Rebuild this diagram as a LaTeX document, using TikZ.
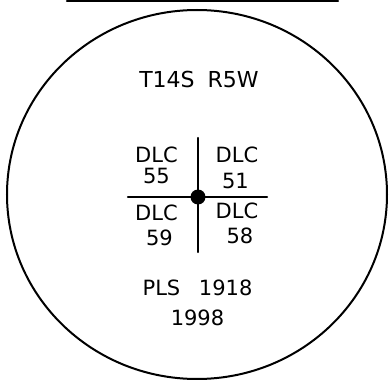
\documentclass[tikz,border=0pt]{standalone}
\usepackage{fontspec}
\setmainfont{DejaVu Sans}
\begin{document}
\begin{tikzpicture}[x=1pt,y=-1pt,
  lbl/.style={anchor=base,inner sep=0pt,font=\fontsize{21}{21}\selectfont},
  big/.style={anchor=base,inner sep=0pt,font=\fontsize{22}{22}\selectfont},
  ln/.style={line width=2.2pt,line cap=round}]
\useasboundingbox (0,0) rectangle (389,380);
% top line
\coordinate (tl) at (67,1.2);
\coordinate (tr) at (338,1.2);
\draw[ln] (tl) -- (tr);
% circle
\draw[line width=2pt] (197,194.5) ellipse [x radius=190, y radius=184.5];
% cross lines
\coordinate (vt) at (198,138);
\coordinate (vb) at (198,252);
\coordinate (hl) at (128,197);
\coordinate (hr) at (267,197);
\draw[ln] (vt) -- (vb);
\draw[ln] (hl) -- (hr);
\node[circle,fill=black,inner sep=0pt,minimum size=15pt] (dot) at (198,197) {};
% texts
\node[big] (twp) at (199,87) {T14S\hspace{6pt} R5W};
\node[lbl] (a1) at (156.5,162) {DLC};
\node[lbl] (a2) at (156.5,183) {55};
\node[lbl] (b1) at (237,162) {DLC};
\node[lbl] (b2) at (235.5,188) {51};
\node[lbl] (c1) at (156.5,220) {DLC};
\node[lbl] (c2) at (159.5,245) {59};
\node[lbl] (d1) at (237,218) {DLC};
\node[lbl] (d2) at (240,243) {58};
\node[lbl] (pls) at (197.5,295) {PLS\hspace{12pt} 1918};
\node[lbl] (yr) at (197.5,325) {1998};
\end{tikzpicture}
\end{document}
